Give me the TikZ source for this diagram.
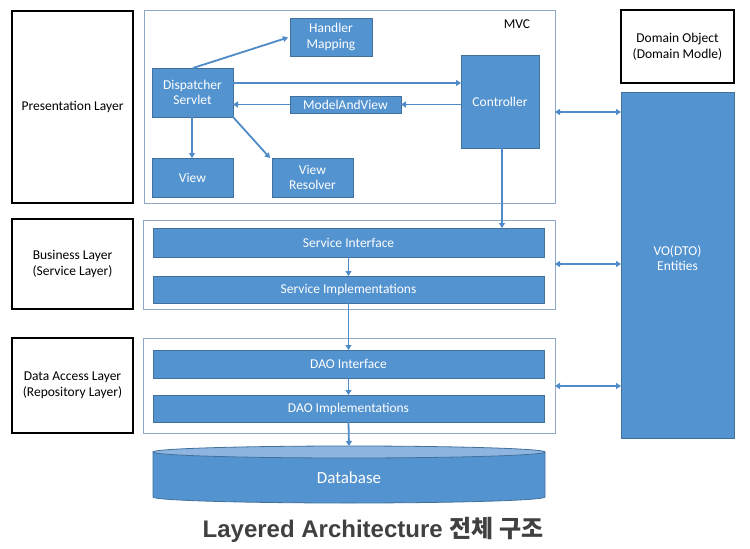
\documentclass[tikz,border=0pt]{standalone}
\usepackage{fontspec}
\setmainfont{Carlito}
\newfontfamily\titlefont{Liberation Sans}
\newfontfamily\krfont{Noto Sans CJK KR}
\usetikzlibrary{arrows.meta,shapes.geometric}
\definecolor{bfill}{HTML}{5393CF}
\definecolor{bdraw}{HTML}{41719C}
\definecolor{btop}{HTML}{8DB5E0}
\definecolor{arr}{HTML}{4F8BC8}
\definecolor{frame}{HTML}{8EA9C6}
\definecolor{ttl}{HTML}{404040}
\begin{document}
\begin{tikzpicture}[x=1pt,y=-1pt,
  every node/.style={inner sep=0pt,outer sep=0pt,font=\fontsize{13.5}{15.5}\selectfont},
  bluebox/.style={draw=bdraw,fill=bfill,line width=0.8pt,text=white,align=center},
  layerbox/.style={draw=black,line width=1.2pt,fill=white,align=center},
  grpbox/.style={draw=frame,line width=1pt},
  conn/.style={draw=arr,line width=1.8pt,-{Triangle[width=6pt,length=5pt]}},
  dconn/.style={draw=arr,line width=1.8pt,{Triangle[width=6pt,length=5pt]}-{Triangle[width=6pt,length=5pt]}}]
\useasboundingbox (0,0) rectangle (750,549);
\fill[white] (0,0) rectangle (750,549);
% left layer boxes
\node[layerbox,minimum width=121pt,minimum height=192pt] (pres) at (72.5,107) {Presentation Layer};
\node[layerbox,minimum width=121pt,minimum height=90pt] (bus) at (72.5,264) {Business Layer\\(Service Layer)};
\node[layerbox,minimum width=121pt,minimum height=95pt] (dal) at (72.5,385.5) {Data Access Layer\\(Repository Layer)};
% group frames
\node[grpbox,minimum width=411pt,minimum height=193pt] (mvc) at (349.5,106.5) {};
\node at (517,24) {MVC};
\node[grpbox,minimum width=412pt,minimum height=89pt] (busg) at (349,264.5) {};
\node[grpbox,minimum width=412pt,minimum height=95pt] (dalg) at (349,385.5) {};
% MVC contents
\node[bluebox,minimum width=82pt,minimum height=38pt] (hm) at (331,37) {Handler\\Mapping};
\node[bluebox,minimum width=81pt,minimum height=49pt] (ds) at (192.5,92.5) {Dispatcher\\Servlet};
\node[bluebox,minimum width=78pt,minimum height=93pt] (ctrl) at (500,101.5) {Controller};
\node[bluebox,minimum width=111pt,minimum height=17pt] (mav) at (345.5,104.5) {ModelAndView};
\node[bluebox,minimum width=81pt,minimum height=39pt] (view) at (192.5,177.5) {View};
\node[bluebox,minimum width=81pt,minimum height=39pt] (vr) at (312.5,177.5) {View\\Resolver};
% business
\node[bluebox,minimum width=391pt,minimum height=29pt] (si) at (348.5,242.5) {Service Interface};
\node[bluebox,minimum width=391pt,minimum height=27pt] (simp) at (348.5,289.5) {Service Implementations};
% data access
\node[bluebox,minimum width=391pt,minimum height=28pt] (dai) at (348.5,364) {DAO Interface};
\node[bluebox,minimum width=391pt,minimum height=27pt] (daimp) at (348.5,408.5) {DAO Implementations};
% right
\node[layerbox,minimum width=113pt,minimum height=73pt] (dom) at (677.5,46.5) {Domain Object\\(Domain Modle)};
\node[bluebox,minimum width=113pt,minimum height=346pt] (vo) at (677.5,265) {};
\node[text=white,align=center] (votext) at (677.5,258) {VO(DTO)\\Entities};
% database cylinder
\fill[bfill] (153,452) -- (153,497) arc[start angle=180,end angle=360,x radius=196pt,y radius=6pt] -- (545,452) -- cycle;
\draw[bdraw,line width=0.8pt] (153,452) -- (153,497) arc[start angle=180,end angle=360,x radius=196pt,y radius=6pt] -- (545,452);
\draw[bdraw,line width=0.8pt,fill=btop] (349,452) ellipse[x radius=196pt,y radius=6pt];
\node[text=white,font=\fontsize{17}{20}\selectfont] (db) at (349,478) {Database};
\coordinate (dbtop) at (349,446);
% title
\node[text=ttl,font=\fontsize{24}{28}\selectfont\bfseries] (title) at (373,530) {\titlefont Layered Architecture {\krfont 전체 구조}};
% connectors
\draw[conn] (193,68) -- (288,37.5);
\draw[conn] (ds.east |- 0,83) -- (ctrl.west |- 0,83);
\draw[conn] (ctrl.west |- mav.east) -- (mav.east);
\draw[conn] (mav.west) -- (ds.east |- mav.west);
\draw[conn] (192,117) -- (view.north -| 192,0);
\draw[conn] (ds.south east) -- (270,158);
\draw[conn] (ctrl.south -| 502,0) -- (si.north -| 502,0);
\draw[conn] (si.south) -- (simp.north);
\draw[conn] (simp.south) -- (dai.north);
\draw[conn] (dai.south) -- (daimp.north);
\draw[conn] (daimp.south) -- (dbtop);
\draw[dconn] (mvc.east |- 0,112) -- (vo.west |- 0,112);
\draw[dconn] (busg.east |- 0,264) -- (vo.west |- 0,264);
\draw[dconn] (dalg.east |- 0,386) -- (vo.west |- 0,386);
\end{tikzpicture}
\end{document}
